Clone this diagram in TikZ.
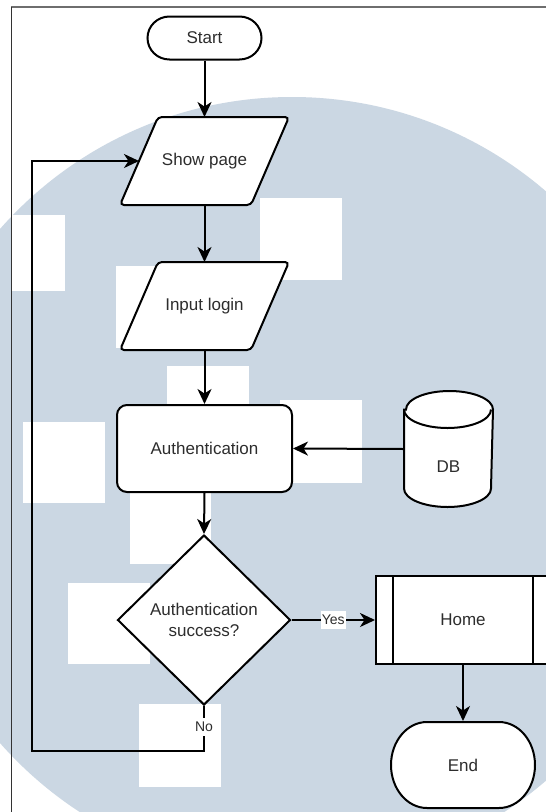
\documentclass[tikz,border=0pt]{standalone}
\usepackage{fontspec}
\setmainfont{Liberation Sans}
\usetikzlibrary{arrows.meta,calc,shapes.geometric}
\definecolor{wm}{RGB}{203,215,227}
\definecolor{txt}{RGB}{45,45,45}
\definecolor{frm}{RGB}{110,110,110}
\pgfdeclarelayer{wmark}
\pgfdeclarelayer{shp}
\pgfsetlayers{wmark,shp,main}
\begin{document}
\begin{tikzpicture}[x=1pt,y=-1pt,
  every path/.style={line width=2pt},
  >={Stealth[length=15pt,width=14pt,inset=4.5pt]},
  T/.style={font=\fontsize{17}{21}\selectfont, text=txt, align=center, inner sep=0pt},
  outl/.style={draw=black, fill=white, line width=2pt},
  con/.style={draw=black, line width=2pt, ->},
  lbl/.style={fill=white, font=\fontsize{14}{16}\selectfont, text=txt, inner xsep=1pt, inner ysep=2pt, text height=11pt, text depth=3pt}
]
\useasboundingbox (0,0) rectangle (546,812);

% watermark background
\begin{pgfonlayer}{wmark}
  \fill[white] (0,0) rectangle (546,812);
  \fill[wm] (292,486) circle (389pt);
  \fill[white] (12,215) rectangle (65,291);
  \fill[white] (260,198) rectangle (342,280);
  \fill[white] (116,266) rectangle (198,348);
  \fill[white] (167,366) rectangle (249,448);
  \fill[white] (280,400) rectangle (362,483);
  \fill[white] (23,422) rectangle (105,503);
  \fill[white] (130,482) rectangle (211,564);
  \fill[white] (68,583) rectangle (150,664);
  \fill[white] (139,704) rectangle (221,787);
  \draw[frm, line width=2pt] (11,7) -- (546,7);
  \draw[black!80, line width=1pt] (11.5,7) -- (11.5,812);
\end{pgfonlayer}

% nodes
\node[T, minimum width=114pt, minimum height=43pt] (start) at (204.5,38) {Start};
\node[T, minimum width=129pt, minimum height=86pt] (show) at (204.5,161) {Show page};
\node[T, minimum width=129pt, minimum height=86pt] (input) at (204.5,306) {Input login};
\node[T, outl, rounded corners=10pt, minimum width=175pt, minimum height=87pt] (auth) at (204.5,448.5) {Authentication};
\node[T, minimum width=87pt, minimum height=114pt] (db) at (448.5,449) {};
\node[T] (dbt) at (448.5,467) {DB};
\node[T, outl, diamond, minimum width=173pt, minimum height=170pt] (dec) at (204,620) {Authentication\\success?};
\node[T, outl, minimum width=174pt, minimum height=88pt] (home) at (463,620) {Home};
\node[T, minimum width=144pt, minimum height=86pt] (end) at (463,765) {End};

% outlines of custom shapes
\begin{pgfonlayer}{shp}
  \draw[outl] (239.5,16.5) .. controls (251.7,16.5) and (261.5,26.1) .. (261.5,38)
     .. controls (261.5,49.9) and (251.7,59.5) .. (239.5,59.5) -- (169.5,59.5)
     .. controls (157.3,59.5) and (147.5,49.9) .. (147.5,38)
     .. controls (147.5,26.1) and (157.3,16.5) .. (169.5,16.5) -- cycle;
  \draw[outl] (499,722) .. controls (518.9,722) and (535,741.3) .. (535,765)
     .. controls (535,788.7) and (518.9,808) .. (499,808) -- (427,808)
     .. controls (407.1,808) and (391,788.7) .. (391,765)
     .. controls (391,741.3) and (407.1,722) .. (427,722) -- cycle;
  \foreach \n in {show,input}{
    \draw[outl, rounded corners=4pt] ($(\n.north west)+(19,0)$) -- ($(\n.north east)+(19,0)$)
       -- ($(\n.south east)+(-19,0)$) -- ($(\n.south west)+(-19,0)$) -- cycle;
  }
  \draw[outl] ($(db.north west)+(0,18.5)$) -- ($(db.south west)+(0,-18.5)$)
     arc[start angle=180, end angle=360, x radius=43.5pt, y radius=18.5pt]
     -- ($(db.north east)+(0,18.5)$)
     arc[start angle=0, end angle=180, x radius=43.5pt, y radius=18.5pt] -- cycle;
  \draw[black, line width=2pt] ($(db.north west)+(0,18.5)$) arc[start angle=180, end angle=360, x radius=43.5pt, y radius=18.5pt];
\end{pgfonlayer}
\draw[black, line width=2pt] ($(home.north west)+(18,0)$) -- ($(home.south west)+(18,0)$);
\draw[black, line width=2pt] ($(home.north east)+(-18,0)$) -- ($(home.south east)+(-18,0)$);

% connectors
\draw[con] (start.south) -- (show.north);
\draw[con] (show.south) -- (input.north);
\draw[con] (input.south) -- (auth.north);
\draw[con] (auth.south) -- (dec.north);
\draw[con] (db.west) -- (auth.east);
\draw[con] (dec.east) -- node[lbl] (yes) {Yes} (home.west);
\draw[con] (home.south) -- (end.north);
\coordinate (lb) at (32,751);
\draw[con] (dec.south) |- (lb) |- (show.west);
\node[lbl] (no) at (204,727) {No};
\end{tikzpicture}
\end{document}
